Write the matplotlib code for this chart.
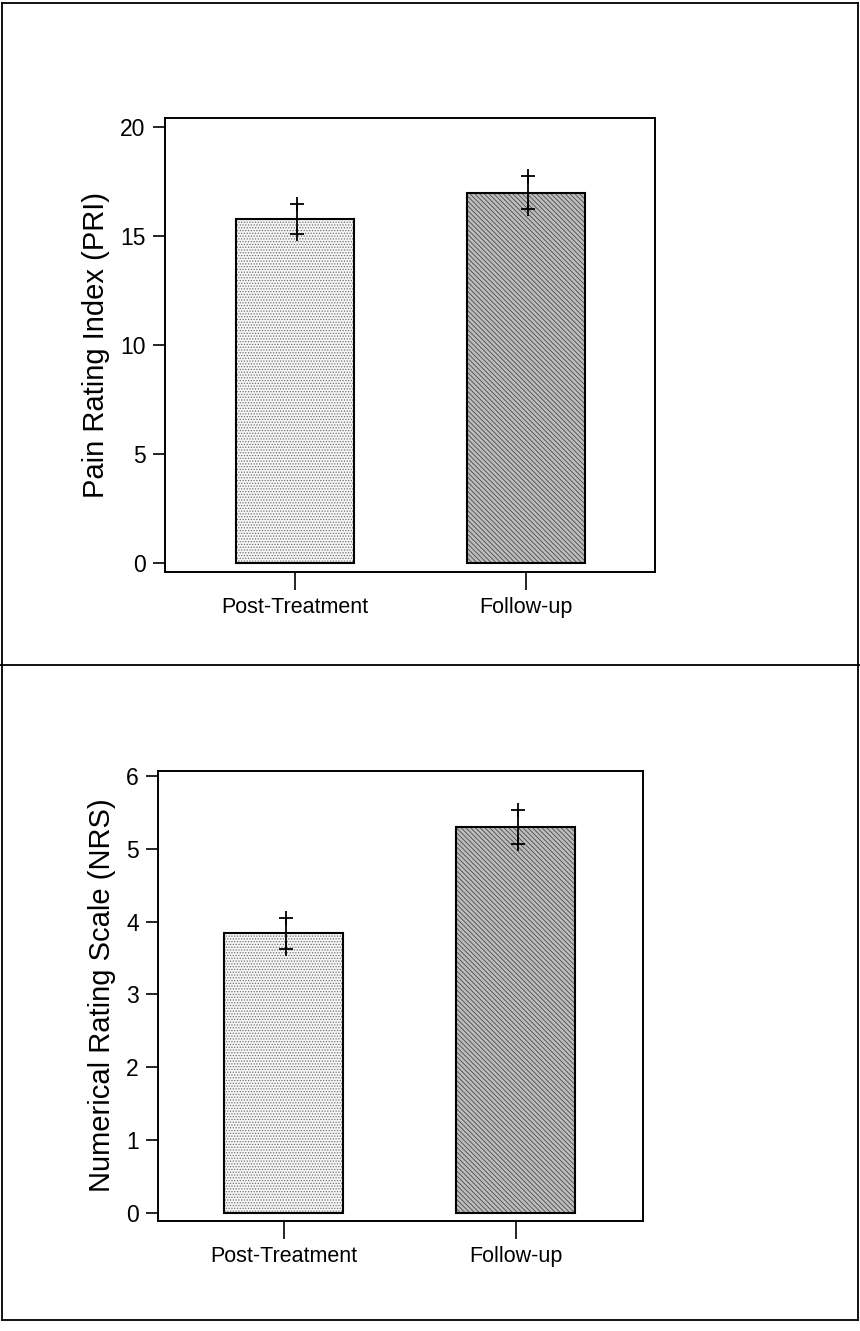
import matplotlib.pyplot as plt
from matplotlib.lines import Line2D

plt.rcParams['font.family'] = ['Liberation Sans', 'DejaVu Sans']
plt.rcParams['hatch.linewidth'] = 0.6

groups = ['Post-Treatment', 'Follow-up']
pri_mean = [15.8, 17.0]
pri_se = [0.7, 0.75]
nrs_mean = [3.84, 5.30]
nrs_se = [0.21, 0.23]

pri_ticks = [0, 5, 10, 15, 20]
nrs_ticks = [0, 1, 2, 3, 4, 5, 6]


def draw_panel(ax, means, ses, yticks, ylim, xlim, ylabel):
    x = [0, 1]
    # fills first, black outline on top
    ax.bar(x[0], means[0], width=0.51, color='#f6f6f6', edgecolor='#707070',
           hatch='......', linewidth=0)
    ax.bar(x[1], means[1], width=0.51, color='#bdbdbd', edgecolor='#4a4a4a',
           hatch='\\\\\\\\\\\\\\', linewidth=0)
    ax.bar(x, means, width=0.51, fill=False, edgecolor='black', linewidth=1.5)
    for xi, m, s in zip(x, means, ses):
        ax.plot([xi + 0.01, xi + 0.01], [m - s, m + s], color='black',
                linewidth=1.3, marker='+', markersize=10, markeredgewidth=1.3)
    ax.set_xlim(*xlim)
    ax.set_ylim(*ylim)
    ax.set_yticks(yticks)
    ax.set_xticks(x)
    ax.set_xticklabels(groups, fontsize=15.5)
    ax.tick_params(axis='y', direction='out', length=9, width=1.2,
                   labelsize=16.5, pad=5)
    ax.tick_params(axis='x', direction='out', length=13, width=1.2, pad=5)
    for sp in ax.spines.values():
        sp.set_linewidth(1.4)
    ax.set_ylabel(ylabel, fontsize=21, labelpad=7)


fig = plt.figure(figsize=(8.6, 13.31), dpi=100)

ax1 = fig.add_axes([0.192, 0.570, 0.570, 0.341])
draw_panel(ax1, pri_mean, pri_se, pri_ticks, (-0.41, 20.41), (-0.56, 1.56),
           'Pain Rating Index (PRI)')

ax2 = fig.add_axes([0.184, 0.083, 0.564, 0.338])
draw_panel(ax2, nrs_mean, nrs_se, nrs_ticks, (-0.1, 6.07), (-0.54, 1.55),
           'Numerical Rating Scale (NRS)')

# outer border and divider of the scanned page
W, H = 860, 1331
def fig_line(xs, ys):
    fig.add_artist(Line2D([v / W for v in xs], [1 - v / H for v in ys],
                          color='black', linewidth=1.3))

fig_line([2, 858], [3, 3])
fig_line([2, 2], [3, 1320])
fig_line([858, 858], [3, 1320])
fig_line([2, 858], [1320, 1320])
fig_line([0, 860], [665, 665])

fig.savefig('out.png', dpi=100, facecolor='white')
